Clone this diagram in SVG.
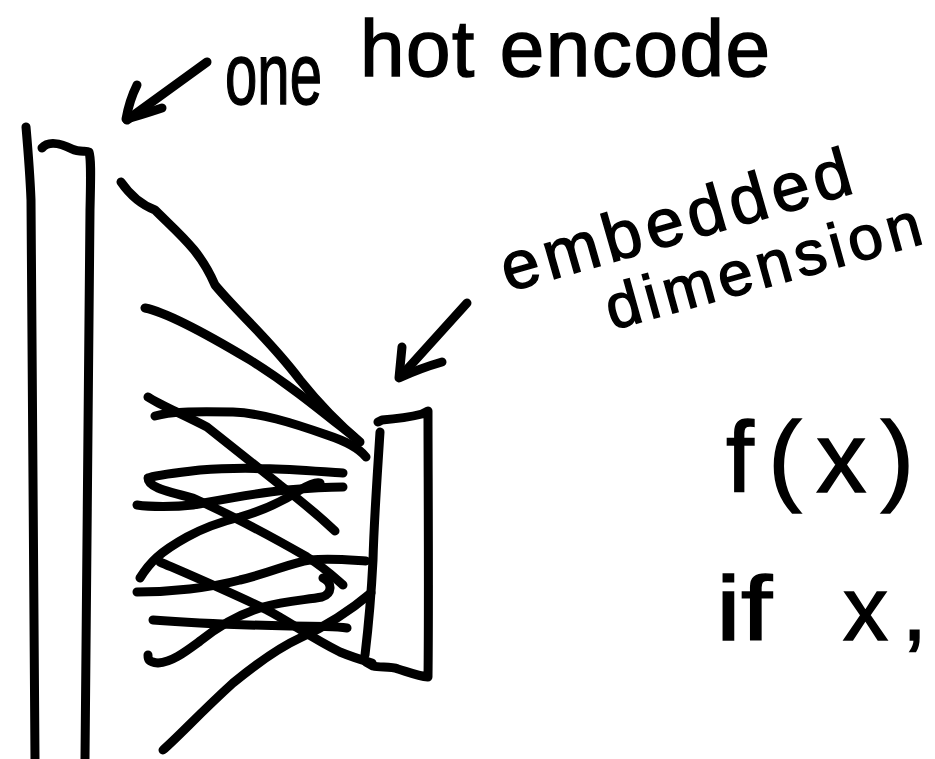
<svg xmlns="http://www.w3.org/2000/svg" width="935" height="759" viewBox="0 0 935 759">
  <style>
    .ink { fill: none; stroke: #000; stroke-width: 9; stroke-linecap: round; stroke-linejoin: round; }
    .hand { font-family: "Liberation Sans", "DejaVu Sans", sans-serif; fill: #000; stroke: #000; stroke-width: 1.5; }
  </style>
  <rect width="935" height="759" fill="#fff"/>

  <g id="one-hot-vector">
    <path class="ink" d="M26,127 C28,150 30,175 31,200 C33,300 34,500 35,759"/>
    <path class="ink" d="M42,148 C48,141 60,143 72,149 C80,153 86,150 89,152 C91,158 91,170 90,210 C88,350 86,550 85,759"/>
  </g>

  <g id="embedding-vector">
    <path class="ink" d="M378,422 L382,420 C395,419 410,417 422,414 L428,411 C428,470 429,600 428,677 C418,676 408,672 398,669 C390,666 380,668 373,666 L366,662"/>
    <path class="ink" d="M380,432 C377,480 374,520 373,560 C371,600 368,630 365,655"/>
  </g>

  <g id="label-one-hot">
    <text class="hand" font-size="80"><tspan x="225" y="104" font-size="88" textLength="97" lengthAdjust="spacingAndGlyphs">one</tspan><tspan x="360" y="76" textLength="410" lengthAdjust="spacing">hot encode</tspan></text>
  </g>

  <g id="label-embedded">
    <text class="hand" font-size="68" transform="translate(508,292) rotate(-16)" textLength="362" lengthAdjust="spacing">embedded</text>
    <text class="hand" font-size="62" transform="translate(612,330) rotate(-15.5)" textLength="325" lengthAdjust="spacing">dimension</text>
  </g>

  <g id="label-fx">
    <text class="hand" font-size="100" x="726" y="492" textLength="188" lengthAdjust="spacing">f(x)</text>
  </g>

  <g id="label-if">
    <text class="hand" font-size="90"><tspan x="716" y="640" textLength="56" lengthAdjust="spacingAndGlyphs">if</tspan><tspan x="843" y="640" textLength="84" lengthAdjust="spacing">x,</tspan></text>
  </g>

  <g id="connectors">
    <path class="ink" d="M207,62 L127,120"/>
    <path class="ink" d="M137,85 C132,95 128,108 126,119 C138,116 150,112 162,108"/>
    <path class="ink" d="M467,303 L401,376"/>
    <path class="ink" d="M402,347 C401,357 400,368 399,378 C412,372 428,366 442,362"/>

    <path class="ink" d="M121,182 C130,195 142,205 155,210 C180,235 200,250 215,285 C240,315 270,340 300,380 C320,405 340,425 360,442"/>
    <path class="ink" d="M145,308 C165,312 200,330 250,360 C290,385 320,410 354,437"/>
    <path class="ink" d="M148,397 C160,405 180,413 207,427 C230,445 257,467 280,485 C300,500 318,515 335,531"/>
    <path class="ink" d="M155,416 C170,412 190,411 233,412 C260,413 290,422 327,435 C345,441 358,447 366,457"/>
    <path class="ink" d="M343,473 C300,470 250,466 200,470 C175,473 155,475 148,478 C148,486 160,490 193,498 C220,510 260,530 307,557 C325,568 335,578 343,585"/>
    <path class="ink" d="M137,505 C150,507 175,507 193,505 C220,500 255,493 287,490 C310,488 330,487 343,487"/>
    <path class="ink" d="M140,578 C150,562 160,552 187,537 C205,527 220,522 240,517 C265,510 285,500 300,490 C310,484 318,482 320,483"/>
    <path class="ink" d="M137,592 C170,592 210,588 240,580 C270,573 290,563 310,560 C330,558 350,560 366,561"/>
    <path class="ink" d="M160,562 C190,575 230,592 267,610 C290,622 310,637 340,652 C352,657 362,660 372,663"/>
    <path class="ink" d="M323,578 C333,583 332,594 322,597 C305,600 285,601 263,607 C240,614 220,625 200,641 C185,652 172,662 158,663 C148,662 148,659 148,655"/>
    <path class="ink" d="M153,620 C190,623 240,625 290,626 C320,626 340,627 347,628"/>
    <path class="ink" d="M163,750 C180,735 200,713 233,683 C255,665 278,648 300,638 C322,628 345,615 371,593"/>
  </g>
</svg>
